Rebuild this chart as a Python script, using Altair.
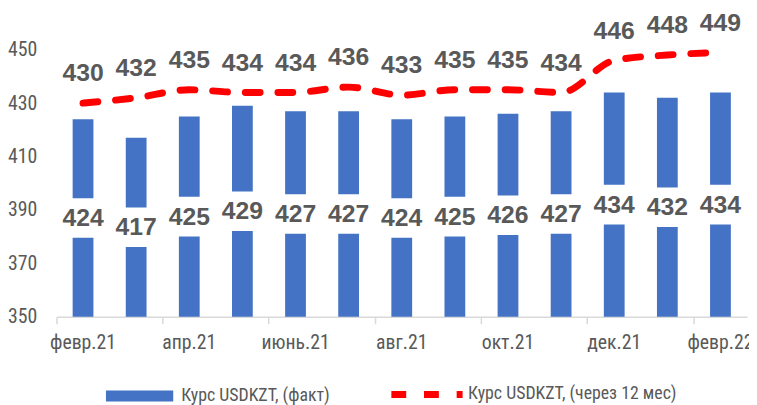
import altair as alt
import pandas as pd

months = ["февр.21", "март.21", "апр.21", "май.21", "июнь.21", "июль.21", "авг.21",
          "сент.21", "окт.21", "нояб.21", "дек.21", "янв.22", "февр.22"]
fact = [424, 417, 425, 429, 427, 427, 424, 425, 426, 427, 434, 432, 434]
forecast = [430, 432, 435, 434, 434, 436, 433, 435, 435, 434, 446, 448, 449]
y_ticks = [350, 370, 390, 410, 430, 450]
tick_months = months[::2]
fact_name = "Курс USDKZT, (факт)"
fc_name = "Курс USDKZT, (через 12 мес)"

df = pd.DataFrame({"month": months, "fact": fact, "forecast": forecast,
                   "s1": fact_name, "s2": fc_name})

FONT = "Liberation Sans Narrow, Roboto Condensed, DejaVu Sans Condensed, sans-serif"
BOLD = "Liberation Sans, Arial, sans-serif"
GREY = "#595959"

xs = alt.Scale(domain=months, paddingInner=0, paddingOuter=0)
ys = alt.Scale(domain=[350, 450], nice=False, zero=False)

base = alt.Chart(df)

bars = base.mark_bar(size=21, color="#4472C4").encode(
    x=alt.X("month:N", sort=months, scale=xs, title=None,
            axis=alt.Axis(orient="bottom", values=tick_months, ticks=False, domain=True,
                          domainColor="#d9d9d9", domainWidth=1.5, labelAngle=0,
                          labelFont=FONT, labelFontSize=20, labelColor=GREY,
                          labelPadding=16)),
    y=alt.Y("fact:Q", scale=ys, title=None,
            axis=alt.Axis(values=y_ticks, domain=False, ticks=False, grid=False,
                          labelFont=FONT, labelFontSize=20, labelColor=GREY,
                          labelPadding=20)),
    y2=alt.datum(350),
    color=alt.Color("s1:N", scale=alt.Scale(range=["#4472C4"]),
                    legend=alt.Legend(title=None, orient="none", legendX=50, legendY=316,
                                      symbolType="M-1,-0.162H1V0.162H-1Z", symbolSize=4624,
                                      symbolStrokeWidth=0, labelFont=FONT, labelFontSize=18,
                                      labelColor=GREY, labelOffset=8, labelLimit=400)),
)

mid = base.transform_calculate(mid="(datum.fact + 350) / 2")

boxes = mid.mark_tick(color="white", thickness=40, size=28, opacity=1).encode(
    x=alt.X("month:N", sort=months, scale=xs, title=None,
            axis=alt.Axis(orient="bottom", values=tick_months, labels=False, ticks=True,
                          tickSize=7, tickColor="#d9d9d9", tickWidth=1.5, bandPosition=0,
                          domain=False)),
    y=alt.Y("mid:Q", scale=ys),
)

barlab = mid.mark_text(font=BOLD, fontWeight="bold", fontSize=25, color=GREY,
                       baseline="middle").encode(
    x=alt.X("month:N", sort=months, scale=xs, axis=None),
    y=alt.Y("mid:Q", scale=ys),
    text="fact:Q",
)

line = base.mark_line(strokeWidth=7, strokeDash=[15, 18], strokeCap="round",
                      interpolate="monotone").encode(
    x=alt.X("month:N", sort=months, scale=xs, axis=None),
    y=alt.Y("forecast:Q", scale=ys),
    stroke=alt.Stroke("s2:N", scale=alt.Scale(range=["#FF0000"]),
                      legend=alt.Legend(title=None, orient="none", legendX=335, legendY=309,
                                        symbolType="stroke", symbolSize=5184,
                                        symbolStrokeWidth=7, symbolDash=[15, 18],
                                        labelFont=FONT, labelFontSize=18,
                                        labelColor=GREY, labelOffset=2, labelLimit=400)),
)

linelab = base.mark_text(font=BOLD, fontWeight="bold", fontSize=25, color=GREY,
                         baseline="middle", dy=-30).encode(
    x=alt.X("month:N", sort=months, scale=xs, axis=None),
    y=alt.Y("forecast:Q", scale=ys),
    text="forecast:Q",
)

chart = alt.layer(bars, boxes, barlab, line, linelab).resolve_axis(
    x="independent"
).resolve_scale(color="independent").properties(
    width=698, height=270,
    autosize=alt.AutoSizeParams(type="none"),
    padding={"left": 49, "top": 40, "right": 2, "bottom": 87},
).configure_view(stroke=None)

chart.save("out.html", embed_options={"renderer": "svg", "actions": False})
